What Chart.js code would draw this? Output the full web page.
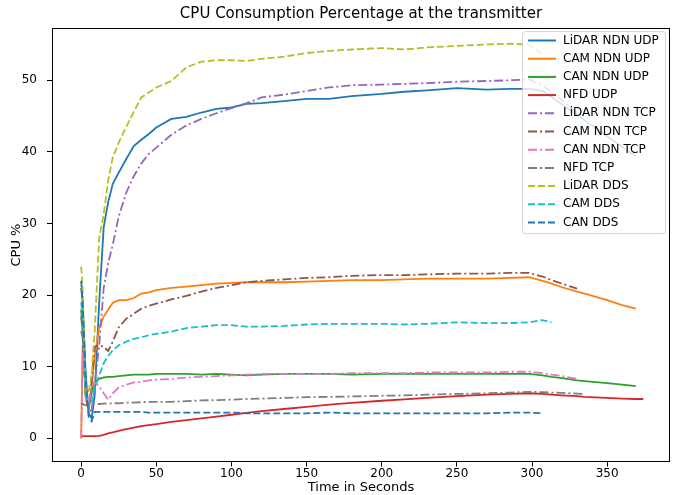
<!DOCTYPE html>
<html>
<head>
<meta charset="utf-8">
<script src="https://cdn.jsdelivr.net/npm/chart.js@4.4.1/dist/chart.umd.min.js"></script>
<style>
  html, body { margin: 0; padding: 0; background: #fff; }
</style>
</head>
<body>
<canvas id="grafico" width="679" height="495"></canvas>
<script>
// tempo (s) comum a todas as séries; null = série já terminou
const seconds = [0, 1, 3, 5, 7, 9, 12, 15, 18, 21, 25, 30, 35, 40, 45, 50, 60, 70, 80, 90, 100, 110, 120, 135, 150, 165, 180, 200, 215, 230, 250, 270, 285, 298, 307, 313, 320, 330, 335, 350, 360, 369, 374];

const lidarNdnUdp = [21, 19, 9, 3.5, 2.8, 6, 19, 29.5, 33, 35.5, 37.1, 39, 40.8, 41.7, 42.5, 43.4, 44.6, 44.9, 45.5, 46, 46.2, 46.7, 46.8, 47.1, 47.4, 47.4, 47.8, 48.1, 48.4, 48.6, 48.9, 48.7, 48.8, 48.8, 48.5, 47.7, 46.6, 45.2, 44.4, 42.2, 40.7, 39.4, null];
const camNdnUdp = [0, 13, 6, 4, 7, 11.5, 15.5, 17, 18, 18.9, 19.3, 19.3, 19.6, 20.2, 20.4, 20.7, 21, 21.2, 21.4, 21.6, 21.7, 21.8, 21.8, 21.8, 21.9, 22, 22.1, 22.1, 22.2, 22.3, 22.3, 22.3, 22.4, 22.5, 22, 21.6, 21.1, 20.5, 20.2, 19.3, 18.6, 18.1, null];
const canNdnUdp = [18, 15, 6, 4.4, 6.5, 7.9, 8.3, 8.5, 8.6, 8.6, 8.7, 8.8, 8.9, 8.9, 8.9, 9.0, 9.0, 9.0, 8.9, 9.0, 8.9, 8.8, 8.9, 9.0, 9.0, 9.0, 8.9, 9.0, 9.0, 9.0, 9.0, 9.0, 9.0, 9.0, 8.8, 8.6, 8.4, 8.1, 8.0, 7.7, 7.5, 7.3, null];
const nfdUdp = [0.3, 0.3, 0.3, 0.3, 0.3, 0.3, 0.35, 0.5, 0.7, 0.85, 1.05, 1.3, 1.5, 1.7, 1.85, 2.0, 2.3, 2.55, 2.8, 3.05, 3.3, 3.55, 3.8, 4.1, 4.4, 4.7, 4.95, 5.25, 5.45, 5.65, 5.9, 6.1, 6.2, 6.3, 6.2, 6.1, 6.0, 5.9, 5.8, 5.65, 5.55, 5.5, 5.5];
const lidarNdnTcp = [15, 14, 7, 3.5, 4, 7.5, 13, 21, 24.5, 27, 31, 34.3, 36.6, 38.4, 39.7, 40.6, 42.4, 43.7, 44.6, 45.4, 46.1, 46.8, 47.6, 48, 48.5, 49, 49.3, 49.4, 49.5, 49.6, 49.8, 49.9, 50.0, 50.1, 49.3, 48.4, 47.2, 45.4, null, null, null, null, null];
const camNdnTcp = [17, 15, 6, 3.9, 8, 12.8, 13, 12.8, 12.2, 13.5, 15.5, 16.7, 17.4, 18.1, 18.5, 18.8, 19.4, 19.9, 20.5, 21.0, 21.4, 21.8, 22.0, 22.2, 22.4, 22.5, 22.7, 22.8, 22.8, 22.9, 23.0, 23.0, 23.1, 23.1, 22.6, 22.1, 21.6, 20.9, null, null, null, null, null];
const canNdnTcp = [0, 12, 7, 5, 7, 7.8, 7.2, 6.3, 5.4, 6.3, 7.1, 7.5, 7.8, 7.9, 8.1, 8.2, 8.3, 8.5, 8.6, 8.7, 8.8, 8.9, 9.0, 9.0, 9.0, 9.0, 9.1, 9.1, 9.1, 9.2, 9.2, 9.2, 9.3, 9.3, 9.1, 8.9, 8.7, 8.3, null, null, null, null, null];
const nfdTcp = [4.8, 4.8, 4.6, 4.7, 4.8, 4.8, 4.8, 4.85, 4.85, 4.9, 4.9, 5.0, 5.0, 5.05, 5.1, 5.1, 5.1, 5.2, 5.3, 5.35, 5.4, 5.5, 5.55, 5.65, 5.75, 5.8, 5.85, 5.95, 6.0, 6.1, 6.2, 6.3, 6.4, 6.5, 6.45, 6.4, 6.35, 6.25, 6.2, null, null, null, null];
const lidarDds = [24, 21, 5.5, 6.5, 9, 15, 28, 31.3, 36, 39.2, 41.3, 43.5, 45.6, 47.6, 48.3, 49, 49.9, 51.8, 52.6, 52.8, 52.8, 52.7, 53, 53.3, 53.8, 54.1, 54.3, 54.5, 54.3, 54.6, 54.8, 55.0, 55.1, 55.0, 53.6, null, null, null, null, null, null, null, null];
const camDds = [19, 17, 6, 4.4, 5, 7, 8.8, 10.5, 11.5, 12.3, 13, 13.5, 13.9, 14.1, 14.4, 14.6, 14.9, 15.4, 15.6, 15.8, 15.8, 15.6, 15.6, 15.7, 15.9, 16, 16, 16, 15.9, 16.0, 16.2, 16.1, 16.1, 16.2, 16.5, 16.2, null, null, null, null, null, null, null];
const canDds = [22, 19, 8, 3, 2.4, 3.7, 3.7, 3.7, 3.7, 3.7, 3.7, 3.7, 3.7, 3.7, 3.6, 3.6, 3.6, 3.6, 3.6, 3.6, 3.6, 3.5, 3.5, 3.5, 3.5, 3.6, 3.5, 3.5, 3.5, 3.5, 3.5, 3.5, 3.6, 3.6, 3.5, null, null, null, null, null, null, null, null];

const xTicks = [0, 50, 100, 150, 200, 250, 300, 350];
const yTicks = [0, 10, 20, 30, 40, 50];

const fonte = "'DejaVu Sans', sans-serif";
const solido = [];
const traco = [7, 3];
const tracoPonto = [9, 3, 2, 3];

const series = [
    { label: "LiDAR NDN UDP", valores: lidarNdnUdp, cor: "#1f77b4", dash: solido },
    { label: "CAM NDN UDP", valores: camNdnUdp, cor: "#ff7f0e", dash: solido },
    { label: "CAN NDN UDP", valores: canNdnUdp, cor: "#2ca02c", dash: solido },
    { label: "NFD UDP", valores: nfdUdp, cor: "#d62728", dash: solido },
    { label: "LiDAR NDN TCP", valores: lidarNdnTcp, cor: "#9467bd", dash: tracoPonto },
    { label: "CAM NDN TCP", valores: camNdnTcp, cor: "#8c564b", dash: tracoPonto },
    { label: "CAN NDN TCP", valores: canNdnTcp, cor: "#e377c2", dash: tracoPonto },
    { label: "NFD TCP", valores: nfdTcp, cor: "#7f7f7f", dash: tracoPonto },
    { label: "LiDAR DDS", valores: lidarDds, cor: "#bcbd22", dash: traco },
    { label: "CAM DDS", valores: camDds, cor: "#17becf", dash: traco },
    { label: "CAN DDS", valores: canDds, cor: "#1f77b4", dash: traco }
];

function pontos(valores) {
    const out = [];
    valores.forEach((v, i) => {
        if (v !== null) out.push({ x: seconds[i], y: v });
    });
    return out;
}

// moldura, título e legenda no estilo matplotlib
const extras = {
    id: "extras",
    afterDatasetsDraw(chart) {
        const ctx = chart.ctx;
        const a = chart.chartArea;
        ctx.save();

        ctx.strokeStyle = "#000";
        ctx.lineWidth = 1;
        ctx.setLineDash([]);
        ctx.strokeRect(Math.round(a.left) + 0.5, Math.round(a.top) + 0.5,
            Math.round(a.right - a.left) - 1, Math.round(a.bottom - a.top) - 1);

        ctx.fillStyle = "#000";
        ctx.font = "15px " + fonte;
        ctx.textAlign = "center";
        ctx.textBaseline = "middle";
        ctx.fillText("CPU Consumption Percentage at the transmitter", (a.left + a.right) / 2, 14);

        const lx = a.right - 147.5, ly = a.top + 3.5, lw = 143, lh = 202;
        ctx.beginPath();
        ctx.roundRect(lx, ly, lw, lh, 3);
        ctx.fillStyle = "rgba(255,255,255,0.8)";
        ctx.fill();
        ctx.strokeStyle = "rgba(204,204,204,0.8)";
        ctx.stroke();

        ctx.font = "12px " + fonte;
        ctx.textAlign = "left";
        series.forEach((s, i) => {
            const y = ly + 9 + i * 18.2;
            ctx.beginPath();
            ctx.setLineDash(s.dash);
            ctx.strokeStyle = s.cor;
            ctx.lineWidth = 2;
            ctx.moveTo(lx + 5.5, y);
            ctx.lineTo(lx + 33.5, y);
            ctx.stroke();
            ctx.setLineDash([]);
            ctx.fillStyle = "#000";
            ctx.fillText(s.label, lx + 40.5, y);
        });
        ctx.restore();
    }
};

const ctx = document.getElementById("grafico").getContext("2d");

new Chart(ctx, {
    type: "line",
    data: {
        datasets: series.map((s, i) => ({
            label: s.label,
            data: pontos(s.valores),
            borderColor: s.cor,
            backgroundColor: s.cor,
            borderDash: s.dash,
            borderWidth: 1.8,
            borderCapStyle: "butt",
            pointRadius: 0,
            tension: 0,
            fill: false,
            order: series.length - i
        }))
    },
    options: {
        responsive: false,
        animation: false,
        layout: { padding: { left: 0, right: 9, top: 28, bottom: 0 } },
        plugins: {
            legend: { display: false },
            title: { display: false },
            tooltip: { enabled: false }
        },
        scales: {
            x: {
                type: "linear",
                min: -19.4,
                max: 391.8,
                afterFit: (s) => { s.height = 33; },
                afterBuildTicks: (s) => { s.ticks = xTicks.map(v => ({ value: v })); },
                border: { display: false },
                grid: { display: true, drawOnChartArea: false, drawTicks: true, tickLength: 4.5, color: "#000" },
                ticks: { color: "#000", font: { family: fonte, size: 12 }, padding: 0, maxRotation: 0 },
                title: { display: true, text: "Time in Seconds", color: "#000", font: { family: fonte, size: 13 }, padding: { top: 4, bottom: 0 } }
            },
            y: {
                type: "linear",
                min: -3.3,
                max: 57.3,
                afterFit: (s) => { s.width = 52; },
                afterBuildTicks: (s) => { s.ticks = yTicks.map(v => ({ value: v })); },
                border: { display: false },
                grid: { display: true, drawOnChartArea: false, drawTicks: true, tickLength: 5, color: "#000" },
                ticks: { color: "#000", font: { family: fonte, size: 12 }, padding: 10 },
                title: { display: true, text: "CPU %", color: "#000", font: { family: fonte, size: 13 }, padding: { top: 9, bottom: 0 } }
            }
        }
    },
    plugins: [extras]
});
</script>
</body>
</html>
